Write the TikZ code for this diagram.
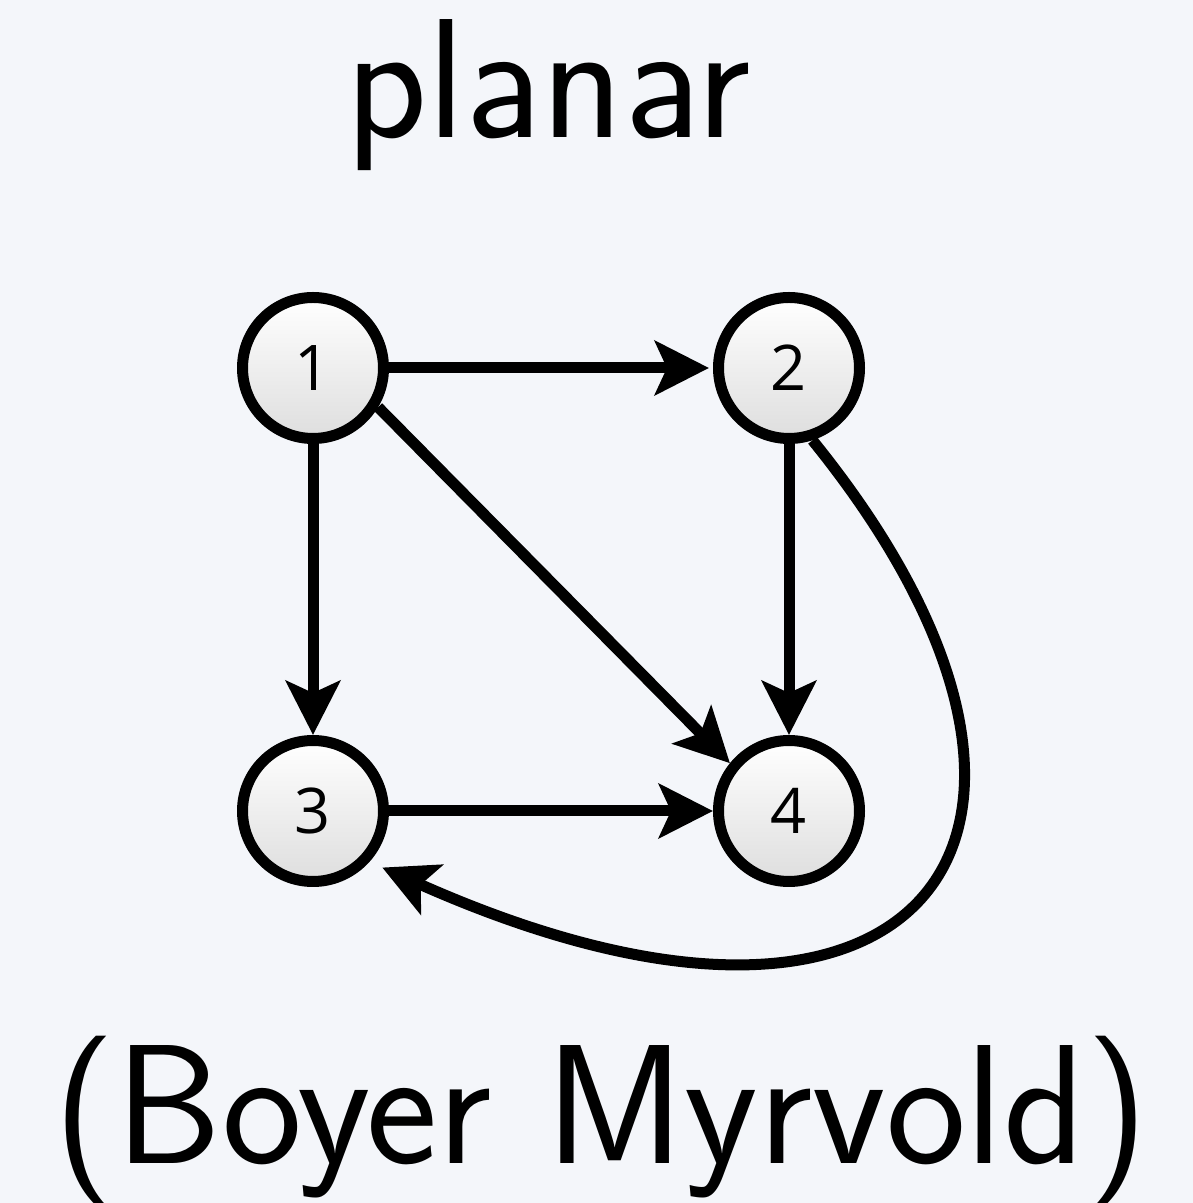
\documentclass[tikz,border=0pt]{standalone}
\usepackage{fontspec}
\newfontfamily\digitfont{Open Sans}
\usetikzlibrary{arrows.meta}
\definecolor{bgc}{HTML}{F4F6FA}
\begin{document}
\begin{tikzpicture}[x=1pt,y=1pt,
  vtx/.style={circle, draw=black, line width=11pt, minimum size=141pt, inner sep=0pt,
    top color=white, bottom color=black!13, font=\digitfont\fontsize{63}{66}\selectfont},
  edge/.style={line width=11pt, -{Stealth[length=54pt,width=54pt,inset=12pt]}},
  ttl/.style={font=\sffamily\fontsize{170}{200}\selectfont, anchor=base, inner sep=0pt}]
\fill[bgc] (0,0) rectangle (1193,1203);
\useasboundingbox (0,0) rectangle (1193,1203);
\node[ttl] (title) at (548,1065) {planar};
\node[ttl] (sub) at (601,39) {(Boyer Myrvold)};
\node[vtx] (n1) at (313,835) {1};
\node[vtx] (n2) at (789,835) {2};
\node[vtx] (n3) at (313,392) {3};
\node[vtx] (n4) at (789,392) {4};
\draw[edge, shorten >=4pt] (n1) -- (n2);
\draw[edge] (n1) -- (n3);
\draw[edge] (n1.-31) -- (n4.141);
\draw[edge] (n2) -- (n4);
\draw[edge] (n3) -- (n4);
\draw[edge, shorten >=14pt] (n2.-72) .. controls +(-51:505) and +(-24:610) .. (n3.-42);
\end{tikzpicture}
\end{document}
